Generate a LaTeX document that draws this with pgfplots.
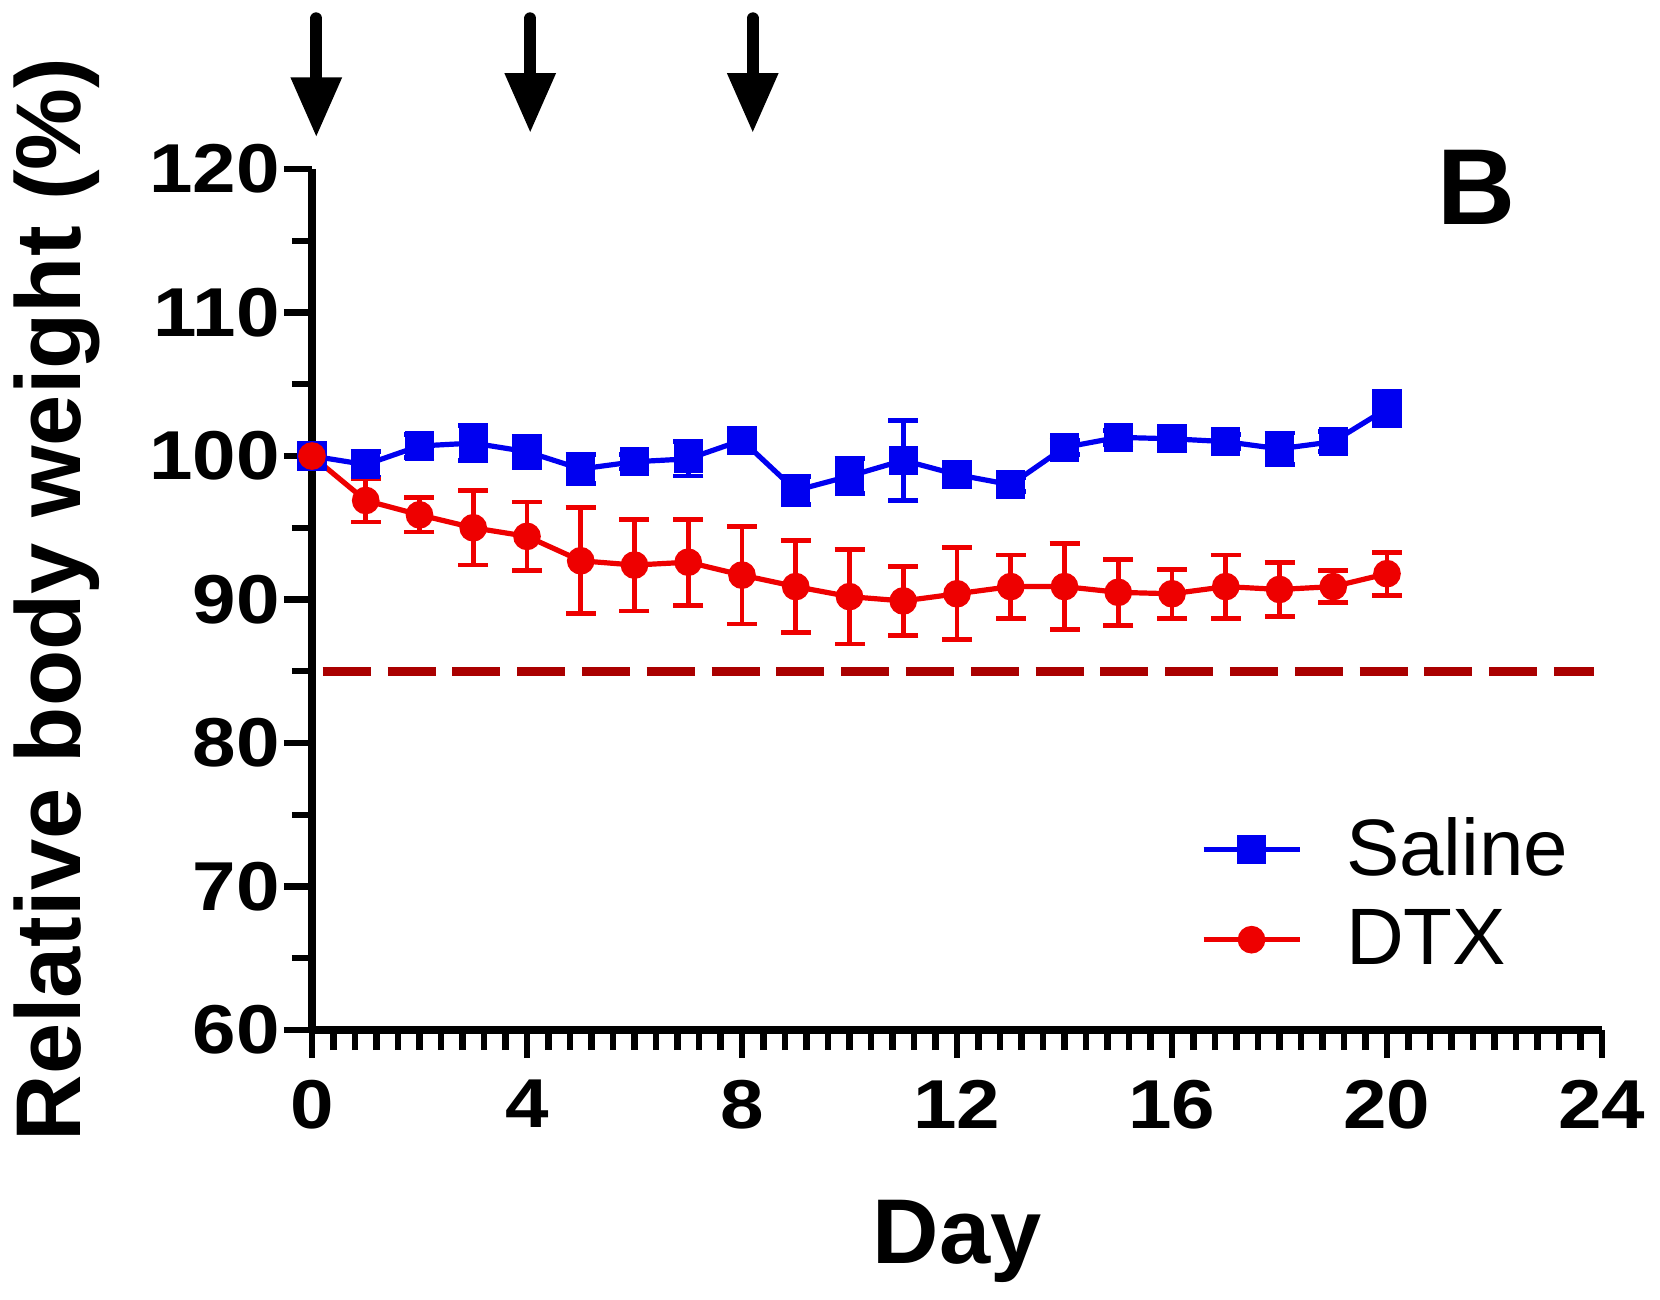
\documentclass[border=0pt]{standalone}
\usepackage{pgfplots}
\pgfplotsset{compat=1.18}
\usepackage{pgfplotstable}
\usepackage{fontspec}
\setmainfont{Liberation Sans}
\newfontfamily\tickfont[FakeStretch=1.13]{Liberation Sans}
\usetikzlibrary{arrows.meta}
\definecolor{salblue}{RGB}{0,0,240}
\definecolor{dtxred}{RGB}{238,0,0}
\definecolor{darkred}{RGB}{170,0,0}

\pgfplotstableread{
day mean err
0 100.0 0.3
1 99.4 0.9
2 100.7 0.8
3 100.9 1.2
4 100.3 1.1
5 99.1 1.0
6 99.6 0.5
7 99.8 1.2
8 101.1 0.5
9 97.6 1.0
10 98.6 1.2
11 99.7 2.8
12 98.7 0.5
13 98.0 0.5
14 100.6 0.5
15 101.3 0.5
16 101.2 0.6
17 101.0 0.5
18 100.5 1.1
19 101.0 0.7
20 103.3 1.2
}\saline

\pgfplotstableread{
day mean err
0 100.0 0.3
1 96.9 1.5
2 95.9 1.2
3 95.0 2.6
4 94.4 2.4
5 92.7 3.7
6 92.4 3.2
7 92.6 3.0
8 91.7 3.4
9 90.9 3.2
10 90.2 3.3
11 89.9 2.4
12 90.4 3.2
13 90.9 2.2
14 90.9 3.0
15 90.5 2.3
16 90.4 1.7
17 90.9 2.2
18 90.7 1.9
19 90.9 1.1
20 91.8 1.5
}\dtx

\begin{document}
\begin{tikzpicture}
\begin{axis}[
  scale only axis,
  width=322.5pt, height=215.25pt,
  xmin=0, xmax=24, ymin=60, ymax=120,
  axis lines=left,
  axis line style={line width=2.2pt, -, black},
  xtick={0,4,...,24}, ytick={60,70,...,120},
  minor x tick num=9, minor y tick num=1,
  tick align=outside,
  major tick length=7pt, minor tick length=5pt,
  every tick/.style={line width=1.6pt, black},
  /pgf/number format/assume math mode=true,
  ticklabel style={font=\tickfont\bfseries\fontsize{17.3}{17.3}\selectfont},
  yticklabel style={xshift=2.5pt},
  xticklabel style={yshift=-2pt},
  xlabel={Day}, ylabel={Relative body weight (\%)},
  label style={font=\bfseries\fontsize{23}{23}\selectfont},
  xlabel style={yshift=-11pt},
  ylabel style={yshift=5.5pt},
  clip=false,
  legend style={draw=none, fill=none, at={(axis cs:16.3,76)}, anchor=north west,
    font=\fontsize{20}{22}\selectfont, row sep=3pt,
    /tikz/every odd column/.append style={column sep=9pt}},
  legend cell align=left,
  legend image code/.code={\draw[mark repeat=2, mark phase=2] plot coordinates {(0pt,0pt) (12pt,0pt) (24pt,0pt)};},
]
\addplot[darkred, line width=2.2pt, dash pattern=on 12pt off 4.2pt, forget plot] coordinates {(0.2,85) (23.85,85)};
\addplot[salblue, line width=1.3pt, mark=square*, mark size=3pt,
  mark options={solid},
  error bars/.cd, y dir=both, y explicit,
  error bar style={line width=1.2pt},
  error mark options={line width=1.2pt, mark size=3.75pt, rotate=90}]
  table[x=day, y=mean, y error=err] {\saline};
\addlegendentry{Saline}
\addplot[dtxred, line width=1.3pt, mark=*, mark size=2.8pt,
  error bars/.cd, y dir=both, y explicit,
  error bar style={line width=1.2pt},
  error mark options={line width=1.2pt, mark size=3.75pt, rotate=90}]
  table[x=day, y=mean, y error=err] {\dtx};
\addlegendentry{DTX}
\draw[line width=3pt, line cap=round, -{Triangle[width=12pt,length=15pt]}] (axis cs:0.08,130.5) -- (axis cs:0.08,122.2);
\draw[line width=3pt, line cap=round, -{Triangle[width=12pt,length=15pt]}] (axis cs:4.06,130.5) -- (axis cs:4.06,122.5);
\draw[line width=3pt, line cap=round, -{Triangle[width=12pt,length=15pt]}] (axis cs:8.2,130.5) -- (axis cs:8.2,122.5);
\node[font=\bfseries\fontsize{27}{27}\selectfont] at (axis cs:21.66,118.7) {B};
\end{axis}
\pgfresetboundingbox
\path[use as bounding box] ([shift={(-78pt,-67.25pt)}]current axis.south west) rectangle ([shift={(14.5pt,42.25pt)}]current axis.north east);
\end{tikzpicture}
\end{document}
